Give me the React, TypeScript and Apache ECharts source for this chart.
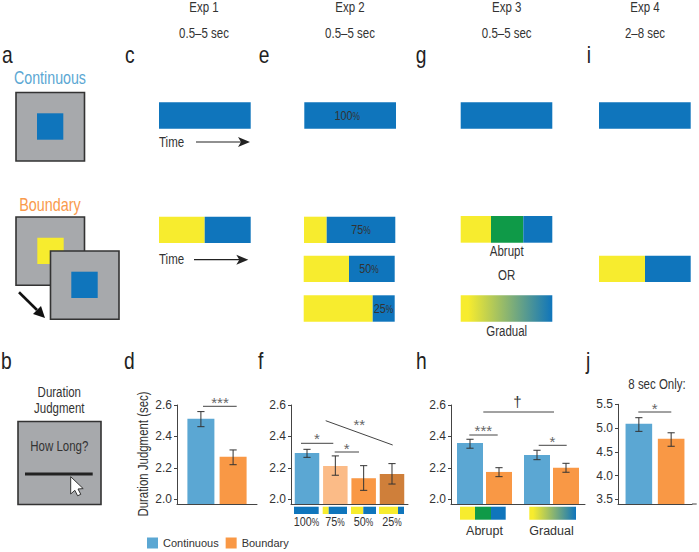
import React, { useEffect, useRef } from "react";
import * as echarts from "echarts";

const FONT = '"Liberation Sans", sans-serif';
const INK = "#333333";
const BLUE = "#0f75bc";
const YELLOW = "#f7ec2e";
const GREEN = "#0f9a48";
const GRAY = "#a7a9ac";
const C_COLOR = "#5ba7d3";
const B_COLOR = "#f99845";
const NARROW = 0.82;

// Panel d (Exp 1)
const dCategories = ["Exp 1"];
const dContinuous = [{ mean: 2.513, low: 2.462, high: 2.558 }];
const dBoundary = [{ mean: 2.271, low: 2.22, high: 2.314 }];

// Panel f (Exp 2)
const fLevels = ["100%", "75%", "50%", "25%"];
const fMeans = [2.295, 2.212, 2.134, 2.161];
const fLows = [2.267, 2.153, 2.057, 2.097];
const fHighs = [2.318, 2.276, 2.214, 2.227];
const fColors = [C_COLOR, "#fbbb87", B_COLOR, "#cf7f3a"];

// Panel h (Exp 3)
const hCategories = ["Abrupt", "Gradual"];
const hContinuous = [
  { mean: 2.358, low: 2.325, high: 2.382 },
  { mean: 2.282, low: 2.252, high: 2.312 },
];
const hBoundary = [
  { mean: 2.174, low: 2.144, high: 2.201 },
  { mean: 2.201, low: 2.172, high: 2.229 },
];

// Panel j (Exp 4)
const jCategories = ["8 sec"];
const jContinuous = [{ mean: 5.09, low: 4.93, high: 5.218 }];
const jBoundary = [{ mean: 4.776, low: 4.616, high: 4.9 }];

const ticks26 = [2.0, 2.2, 2.4, 2.6];
const ticks55 = [3.5, 4.0, 4.5, 5.0, 5.5];

// ---------- helpers for drawn stimuli
const rect = (x0: number, y0: number, x1: number, y1: number, fill: any, extra: any = {}) => ({
  type: "rect",
  shape: { x: x0, y: y0, width: x1 - x0, height: y1 - y0 },
  style: { fill, ...extra },
  silent: true,
});
const text = (t: string, x: number, y: number, size = 14, fill = INK, align = "center", scaleX = NARROW) => ({
  type: "text",
  x,
  y,
  scaleX,
  style: { text: t, fontFamily: FONT, fontSize: size, fill, align, verticalAlign: "middle" },
  silent: true,
});
const letter = (t: string, x: number, y: number) => text(t, x, y, 24, "#222222", "left", 0.8);
const line = (x1: number, y1: number, x2: number, y2: number, width = 1, stroke = "#444444") => ({
  type: "line",
  shape: { x1, y1, x2, y2 },
  style: { stroke, lineWidth: width },
  silent: true,
});
const poly = (points: number[][], fill: string, extra: any = {}) => ({
  type: "polygon",
  shape: { points },
  style: { fill, ...extra },
  silent: true,
});
const frame = (x0: number, y0: number, x1: number, y1: number) =>
  rect(x0, y0, x1, y1, GRAY, { stroke: "#333333", lineWidth: 1.6 });
const pct = (n: string, x: number, y: number, size = 13.5) => ({
  type: "text",
  x,
  y,
  scaleX: 0.8,
  style: {
    text: `{a|${n}}{b|%}`,
    align: "center",
    verticalAlign: "middle",
    fill: INK,
    fontFamily: FONT,
    rich: {
      a: { fontFamily: FONT, fontSize: size, fill: INK },
      b: { fontFamily: FONT, fontSize: size - 3, fill: INK },
    },
  },
  silent: true,
});
const stars = (t: string, x: number, y: number) => text(t, x, y, 15, "#666666", "center", 1);

const timeArrow = (x0: number, x1: number, y: number) => [
  line(x0, y, x1 - 8, y, 1.2, "#222222"),
  poly([[x1, y], [x1 - 12, y - 5], [x1 - 9, y], [x1 - 12, y + 5]], "#222222"),
];

const gradual = () =>
  new echarts.graphic.LinearGradient(0, 0, 1, 0, [
    { offset: 0, color: YELLOW },
    { offset: 0.08, color: YELLOW },
    { offset: 1, color: BLUE },
  ]);

const elements: any[] = [
  // headers
  text("Exp 1", 204, 7.5), text("0.5–5 sec", 204, 33.5),
  text("Exp 2", 350, 7.5), text("0.5–5 sec", 350, 33.5),
  text("Exp 3", 506.7, 7.5), text("0.5–5 sec", 506.7, 33.5),
  text("Exp 4", 645, 7.5), text("2–8 sec", 645, 33.5),
  // panel letters
  letter("a", 2, 55), letter("c", 125, 55), letter("e", 258.7, 55), letter("g", 415.7, 55), letter("i", 586.7, 55),
  letter("b", 1, 361), letter("d", 124, 361), letter("f", 258, 361), letter("h", 416, 361), letter("j", 586, 361),
  // a
  text("Continuous", 50, 77, 18, C_COLOR, "center", 0.79),
  frame(16, 92.5, 84.5, 161),
  rect(37, 113.3, 63.3, 139.7, BLUE),
  text("Boundary", 50, 204, 18, "#f99a4c", "center", 0.8),
  frame(16, 217, 84.5, 285.3),
  rect(37.3, 237.7, 63.7, 264, YELLOW),
  frame(50.5, 251, 119, 319.3),
  rect(71.3, 271.7, 97.7, 298, BLUE),
  line(19, 292.3, 37, 310, 2.6, "#111111"),
  poly([[45, 318], [33, 314], [41, 306]], "#111111"),
  // b
  text("Duration", 59.3, 391.7), text("Judgment", 59.3, 408.3),
  frame(18, 421.5, 101, 504.5),
  text("How Long?", 59.3, 446),
  rect(25, 472.5, 92.7, 475.5, "#222222"),
  poly(
    [[70.7, 476.7], [70.7, 494], [74.8, 490.3], [77.6, 495.8], [80.8, 494.3], [78, 489], [83.2, 488.6]],
    "#ffffff",
    { stroke: "#333333", lineWidth: 1 }
  ),
  // c
  rect(159, 102.3, 250.7, 128.7, BLUE),
  text("Time", 159, 142, 14, INK, "left"),
  ...timeArrow(196, 250, 142),
  rect(159, 216.7, 204.7, 243, YELLOW),
  rect(204.7, 216.7, 250.7, 243, BLUE),
  text("Time", 159, 258.7, 14, INK, "left"),
  ...timeArrow(194, 248.3, 259.7),
  // e
  rect(304.3, 102.3, 396, 128.7, BLUE),
  pct("100", 347.3, 116),
  rect(304, 216.7, 326.7, 243, YELLOW),
  rect(326.7, 216.7, 395.3, 243, BLUE),
  pct("75", 361, 230),
  rect(303.7, 255.7, 349, 282, YELLOW),
  rect(349, 255.7, 394.7, 282, BLUE),
  pct("50", 369, 269),
  rect(303.7, 295.3, 372.7, 321.7, YELLOW),
  rect(372.7, 295.3, 394.7, 321.7, BLUE),
  pct("25", 383.5, 309),
  // g
  rect(460.7, 102.3, 552.3, 128.7, BLUE),
  rect(460.7, 216, 491, 242.7, YELLOW),
  rect(491, 216, 523.3, 242.7, GREEN),
  rect(523.3, 216, 552.3, 242.7, BLUE),
  text("Abrupt", 506.7, 251.3),
  text("OR", 506.7, 275.3),
  rect(460.7, 295.3, 552.3, 321.7, gradual()),
  text("Gradual", 506.7, 331),
  // i
  rect(599, 102.3, 690.7, 128.7, BLUE),
  rect(599, 255.7, 645, 282, YELLOW),
  rect(645, 255.7, 690.7, 282, BLUE),
  // f strips and labels
  rect(294, 506.7, 318.7, 514, BLUE),
  rect(322.7, 506.7, 328.7, 514, YELLOW),
  rect(328.7, 506.7, 347, 514, BLUE),
  rect(351, 506.7, 363.3, 514, YELLOW),
  rect(363.3, 506.7, 376, 514, BLUE),
  rect(379, 506.7, 398, 514, YELLOW),
  rect(398, 506.7, 404, 514, BLUE),
  pct("100", 306.5, 522), pct("75", 335, 522), pct("50", 363.5, 522), pct("25", 392, 522),
  // h strips
  rect(460, 506.7, 475, 519.7, YELLOW),
  rect(475, 506.7, 491, 519.7, GREEN),
  rect(491, 506.7, 505.7, 519.7, BLUE),
  rect(529.3, 506.7, 576, 519.7, gradual()),
  // y title
  {
    type: "text",
    x: 142.7,
    y: 454,
    rotation: Math.PI / 2,
    scaleX: 0.79,
    style: { text: "Duration Judgment (sec)", fontFamily: FONT, fontSize: 14.5, fill: INK, align: "center", verticalAlign: "middle" },
    silent: true,
  },
  // significance
  line(203, 406.3, 236.7, 406.3),
  stars("***", 220, 402),
  line(301, 443.3, 333.3, 443.3),
  stars("*", 317, 438),
  line(334.7, 452, 359, 452),
  stars("*", 346.7, 448),
  line(325.7, 420.7, 392.7, 445),
  stars("**", 359.3, 424),
  text("†", 517.3, 401.7, 15, INK, "center", 1),
  line(483.3, 412, 554, 412),
  stars("***", 483.3, 430.5),
  line(469.3, 435, 497.7, 435),
  stars("*", 552.3, 441),
  line(538.7, 445.3, 566.7, 445.3),
  text("8 sec Only:", 657, 384),
  stars("*", 654.7, 408),
  line(638.3, 412, 671.3, 412),
  // j axis tail beyond the centred grid
  line(692, 504, 696.7, 504, 1, "#444444"),
];

// ---------- chart builders
type Pt = { mean: number; low: number; high: number };

const errorSeries = (gridIndex: number, points: number[][], offset: number) => ({
  type: "custom",
  name: `err${gridIndex}-${offset}`,
  xAxisIndex: gridIndex,
  yAxisIndex: gridIndex,
  clip: false,
  silent: true,
  z: 5,
  encode: { x: 0, y: [1, 2] },
  data: points,
  renderItem: (_: any, api: any) => {
    const lo = api.coord([api.value(0), api.value(1)]);
    const hi = api.coord([api.value(0), api.value(2)]);
    const x = lo[0] + offset;
    const cap = 3.6;
    const s = { stroke: "#333333", lineWidth: 1 };
    return {
      type: "group",
      children: [
        { type: "line", shape: { x1: x, y1: lo[1], x2: x, y2: hi[1] }, style: s },
        { type: "line", shape: { x1: x - cap, y1: lo[1], x2: x + cap, y2: lo[1] }, style: s },
        { type: "line", shape: { x1: x - cap, y1: hi[1], x2: x + cap, y2: hi[1] }, style: s },
      ],
    };
  },
});

const barSeries = (gridIndex: number, name: string, values: number[], color: string, width: number, gap: string) => ({
  type: "bar",
  name,
  xAxisIndex: gridIndex,
  yAxisIndex: gridIndex,
  data: values,
  barWidth: width,
  barGap: gap,
  itemStyle: { color },
});

const pairSeries = (gridIndex: number, c: Pt[], b: Pt[], width: number, spacing: number) => {
  const gap = `${((spacing - width) / width) * 100}%`;
  return [
    barSeries(gridIndex, "Continuous", c.map((p) => p.mean), C_COLOR, width, gap),
    barSeries(gridIndex, "Boundary", b.map((p) => p.mean), B_COLOR, width, gap),
    errorSeries(gridIndex, c.map((p, i) => [i, p.low, p.high]), -spacing / 2),
    errorSeries(gridIndex, b.map((p, i) => [i, p.low, p.high]), spacing / 2),
  ];
};

const fSeries = (gridIndex: number, width: number, spacing: number) => {
  const gap = `${((spacing - width) / width) * 100}%`;
  return [
    ...fLevels.map((n, i) => barSeries(gridIndex, n, [fMeans[i]], fColors[i], width, gap)),
    ...fLevels.map((_, i) =>
      errorSeries(gridIndex, [[0, fLows[i], fHighs[i]]], (i - (fLevels.length - 1) / 2) * spacing)
    ),
  ];
};

const xAxis = (gridIndex: number, data: string[], labels = false) => ({
  type: "category",
  gridIndex,
  data,
  axisLine: { show: true, onZero: false, lineStyle: { color: "#444444", width: 1 } },
  axisTick: { show: false },
  axisLabel: labels
    ? { show: true, interval: 0, margin: 20, fontFamily: FONT, fontSize: 12.5, color: INK }
    : { show: false },
});

const yAxis = (gridIndex: number, min: number, max: number, ticks: number[]) => ({
  type: "value",
  gridIndex,
  min,
  max,
  axisLine: { show: true, lineStyle: { color: "#444444", width: 1 } },
  axisTick: { show: true, length: 3, customValues: ticks, lineStyle: { color: "#444444" } },
  splitLine: { show: false },
  axisLabel: {
    show: true,
    customValues: ticks,
    margin: 5,
    fontFamily: FONT,
    fontSize: 12,
    color: INK,
    formatter: (v: number) => v.toFixed(1),
  },
});

export default function App() {
  const ref = useRef<HTMLDivElement>(null);
  useEffect(() => {
    document.body.style.margin = "0";
    const chart = echarts.init(ref.current!, undefined, { renderer: "svg" });
    chart.setOption({
      animation: false,
      backgroundColor: "#ffffff",
      textStyle: { fontFamily: FONT },
      grid: [
        { left: 177, top: 405, width: 80, height: 99 },
        { left: 291, top: 405, width: 117, height: 99 },
        { left: 451, top: 405, width: 134, height: 99 },
        { left: 618, top: 404.3, width: 74, height: 99.7 },
      ],
      xAxis: [
        xAxis(0, dCategories),
        xAxis(1, ["Exp 2"]),
        xAxis(2, hCategories, true),
        xAxis(3, jCategories),
      ],
      yAxis: [
        yAxis(0, 1.97, 2.6, ticks26),
        yAxis(1, 1.97, 2.6, ticks26),
        yAxis(2, 1.97, 2.6, ticks26),
        yAxis(3, 3.4, 5.5, ticks55),
      ],
      legend: {
        data: ["Continuous", "Boundary"],
        left: 147,
        top: 537.5,
        itemWidth: 11,
        itemHeight: 11,
        itemGap: 7,
        selectedMode: false,
        icon: "rect",
        textStyle: { fontFamily: FONT, fontSize: 11, color: INK },
        padding: 0,
      },
      series: [
        ...pairSeries(0, dContinuous, dBoundary, 27, 32.2),
        ...fSeries(1, 24.5, 28.33),
        ...pairSeries(2, hContinuous, hBoundary, 26, 29),
        ...pairSeries(3, jContinuous, jBoundary, 26.6, 32.3),
      ],
      graphic: { elements },
    });
    return () => chart.dispose();
  }, []);
  return <div ref={ref} style={{ width: 699, height: 552 }} />;
}
